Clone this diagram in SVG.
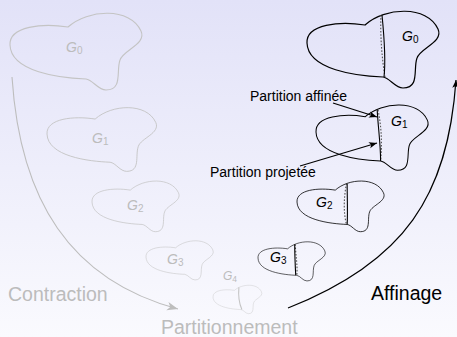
<svg xmlns="http://www.w3.org/2000/svg" width="457" height="337" viewBox="0 0 457 337">
  <defs>
    <linearGradient id="bg" x1="0" y1="0" x2="0" y2="1">
      <stop offset="0" stop-color="#e2e2f8"/>
      <stop offset="1" stop-color="#fafafe"/>
    </linearGradient>
    <!-- one graph outline, left tip at the origin -->
    <path id="blob" d="M0,0 C-1,-19 33,-22 58,-18 C78,-36 120,-38 131,-14 C137,-1 113,5 110,15 C106,26 113,45 96,45 C88,45 83,35 76,34 C50,33 1,27 0,0 Z"/>
    <marker id="ahGrey" viewBox="-11 -5 12 10" refX="0" refY="0" markerWidth="12" markerHeight="10" orient="auto" markerUnits="userSpaceOnUse">
      <path d="M0,0 L-11,-4.2 L-8,0 L-11,4.2 Z" fill="#bdbdbd"/>
    </marker>
    <marker id="ahBlack" viewBox="-9 -4 10 8" refX="0" refY="0" markerWidth="10" markerHeight="8" orient="auto" markerUnits="userSpaceOnUse">
      <path d="M0,0 L-8,-3.2 L-6,0 L-8,3.2 Z" fill="#000"/>
    </marker>
  </defs>
  <style>
    .gOut { fill: none; stroke: #c4c4c4; stroke-width: 1.1; vector-effect: non-scaling-stroke; }
    .bOut { fill: none; stroke: #000; stroke-width: 1.2; vector-effect: non-scaling-stroke; }
    .cut { fill: none; stroke: #000; stroke-width: 1.1; vector-effect: non-scaling-stroke; }
    .proj { fill: none; stroke: #555; stroke-width: 1.1; stroke-dasharray: 1.6 1.6; vector-effect: non-scaling-stroke; }
    .gCut { fill: none; stroke: #c4c4c4; stroke-width: 1.1; vector-effect: non-scaling-stroke; }
    .lbl { font-family: "Liberation Sans", Arial, sans-serif; font-style: italic; font-size: 14px; }
    .sub { font-style: normal; font-size: 10px; }
    .gTxt { fill: #bcbcbc; }
    .bTxt { fill: #000; }
    .big { font-family: "Liberation Sans", Arial, sans-serif; font-size: 19.5px; }
    .note { font-family: "Liberation Sans", Arial, sans-serif; font-size: 14px; fill: #000; }
    .gLine { fill: none; stroke: #bdbdbd; stroke-width: 1.1; }
    .bLine { fill: none; stroke: #000; stroke-width: 1.2; }
  </style>

  <rect x="0" y="0" width="457" height="337" fill="url(#bg)"/>

  <!-- contraction side: grey graphs -->
  <g id="grey-g0">
    <use href="#blob" class="gOut" transform="translate(10,45)"/>
    <text class="lbl gTxt" x="66" y="52">G<tspan class="sub" dy="2">0</tspan></text>
  </g>
  <g id="grey-g1">
    <use href="#blob" class="gOut" transform="translate(47,134) scale(0.83)"/>
    <text class="lbl gTxt" x="92" y="143">G<tspan class="sub" dy="2">1</tspan></text>
  </g>
  <g id="grey-g2">
    <use href="#blob" class="gOut" transform="translate(92,202) scale(0.66)"/>
    <text class="lbl gTxt" x="127" y="210">G<tspan class="sub" dy="2">2</tspan></text>
  </g>
  <g id="grey-g3">
    <use href="#blob" class="gOut" transform="translate(146,257) scale(0.51)"/>
    <text class="lbl gTxt" x="167" y="264">G<tspan class="sub" dy="2">3</tspan></text>
  </g>
  <g id="grey-g4">
    <g transform="translate(213,297) scale(0.37)">
      <use href="#blob" class="gOut"/>
      <path class="gCut" d="M70,-26 C68,-5 72,20 78,34"/>
    </g>
    <text class="lbl gTxt" x="223" y="280" style="font-size:12px">G<tspan class="sub" dy="2" style="font-size:8.5px">4</tspan></text>
  </g>

  <!-- refinement side: black graphs with projected (dotted) and refined (solid) cuts -->
  <g id="black-g0">
    <g transform="translate(307,43)">
      <use href="#blob" class="bOut"/>
      <path class="proj" d="M74,-28 C73,-8 75,16 78,34"/>
      <path class="cut" d="M75,-28 C77,-8 79,16 77,34"/>
    </g>
    <text class="lbl bTxt" x="402" y="41">G<tspan class="sub" dy="2">0</tspan></text>
  </g>
  <g id="black-g1">
    <g transform="translate(316,132) scale(0.85)">
      <use href="#blob" class="bOut"/>
      <path class="proj" d="M73,-26 C77,-6 78,14 76,34"/>
      <path class="cut" d="M72,-26 C73,-6 76,14 76,34"/>
    </g>
    <text class="lbl bTxt" x="391" y="126">G<tspan class="sub" dy="2">1</tspan></text>
  </g>
  <g id="black-g2">
    <g transform="translate(297,202) scale(0.66)">
      <use href="#blob" class="bOut"/>
      <path class="proj" d="M75,-28 C71,-8 70,16 75,34"/>
      <path class="cut" d="M76,-28 C76,-8 77,16 76,34"/>
    </g>
    <text class="lbl bTxt" x="316" y="207">G<tspan class="sub" dy="2">2</tspan></text>
  </g>
  <g id="black-g3">
    <g transform="translate(258,258) scale(0.51)">
      <use href="#blob" class="bOut"/>
      <path class="proj" d="M73,-27 C74,-5 78,16 76,34"/>
      <path class="cut" d="M72,-27 C72,-8 73,16 74,34"/>
    </g>
    <text class="lbl bTxt" x="270" y="262">G<tspan class="sub" dy="2">3</tspan></text>
  </g>

  <!-- phase labels -->
  <g id="label-contraction">
    <text class="big gTxt" x="8" y="301">Contraction</text>
  </g>
  <g id="label-partitionnement">
    <text class="big gTxt" x="161" y="334">Partitionnement</text>
  </g>
  <g id="label-affinage">
    <text class="big bTxt" x="371" y="300">Affinage</text>
  </g>
  <g id="label-affinee">
    <text class="note" x="250" y="101">Partition affinée</text>
  </g>
  <g id="label-projetee">
    <text class="note" x="210" y="177">Partition projetée</text>
  </g>

  <g id="connectors">
    <path class="gLine" d="M12,77 C20,200 70,280 178,309" marker-end="url(#ahGrey)"/>
    <path class="bLine" d="M288,308 C405,262 448,195 456,80" marker-end="url(#ahBlack)"/>
    <path class="bLine" d="M333,103 L377,117" marker-end="url(#ahBlack)"/>
    <path class="bLine" d="M300,166 L377,143" marker-end="url(#ahBlack)"/>
  </g>
</svg>
